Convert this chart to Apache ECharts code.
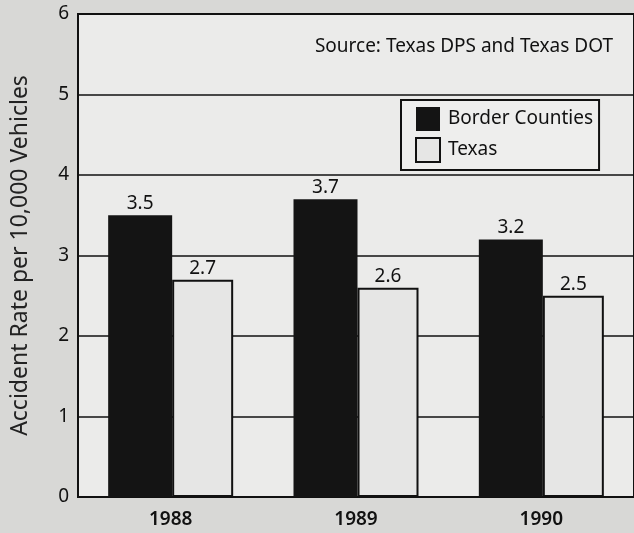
<!DOCTYPE html>
<html>
<head>
<meta charset="utf-8">
<script src="https://cdn.jsdelivr.net/npm/echarts@6/dist/echarts.min.js"></script>
<style>
html,body{margin:0;padding:0;background:#d8d8d6;}
#chart{width:634px;height:533px;}
</style>
</head>
<body>
<div id="chart"></div>
<script>
const categories = ['1988', '1989', '1990'];
const borderCounties = [3.5, 3.7, 3.2];
const texas = [2.7, 2.6, 2.5];
const yTicks = [0, 1, 2, 3, 4, 5, 6];

const FONT = '"Noto Sans", "Open Sans", sans-serif';
const chart = echarts.init(document.getElementById('chart'));
chart.setOption({
  backgroundColor: '#d8d8d6',
  animation: false,
  grid: {
    left: 78, top: 14, width: 561, bottom: 36,
    show: true, backgroundColor: '#ebebea', borderColor: '#111', borderWidth: 2
  },
  title: {
    text: 'Source: Texas DPS and Texas DOT',
    right: 16, top: 32,
    textStyle: { fontFamily: FONT, fontSize: 19, fontWeight: 'normal', color: '#111' }
  },
  legend: {
    orient: 'vertical', left: 401, top: 100,
    itemWidth: 24, itemHeight: 24, itemGap: 6,
    padding: [7, 6, 7, 14],
    borderColor: '#111', borderWidth: 2, backgroundColor: '#eeeeed',
    icon: 'rect',
    textStyle: { fontFamily: FONT, fontSize: 19, color: '#111', padding: [0, 0, 0, 3] },
    data: ['Border Counties', 'Texas']
  },
  xAxis: {
    type: 'category', data: categories,
    axisLine: { lineStyle: { color: '#111', width: 2 } },
    axisTick: { show: false },
    axisLabel: { fontFamily: FONT, fontSize: 19, fontWeight: 600, color: '#111', margin: 13 }
  },
  yAxis: {
    type: 'value', min: yTicks[0], max: yTicks[yTicks.length - 1], interval: 1,
    name: 'Accident Rate per 10,000 Vehicles', nameLocation: 'middle', nameGap: 46,
    nameTextStyle: { fontFamily: FONT, fontSize: 23, color: '#222' },
    axisLine: { show: true, lineStyle: { color: '#111', width: 2 } },
    axisTick: { show: false },
    axisLabel: { fontFamily: FONT, fontSize: 19, color: '#111', margin: 9 },
    splitLine: { lineStyle: { color: '#111', width: 1.5 } }
  },
  series: [
    {
      name: 'Border Counties', type: 'bar', data: borderCounties,
      barWidth: 64, barGap: '0%',
      itemStyle: { color: '#141414' },
      label: { show: true, position: 'top', distance: 2, fontFamily: FONT, fontSize: 19, color: '#111' }
    },
    {
      name: 'Texas', type: 'bar', data: texas,
      barWidth: 61,
      itemStyle: { color: '#e6e6e5', borderColor: '#111', borderWidth: 2 },
      label: { show: true, position: 'top', distance: 2, fontFamily: FONT, fontSize: 19, color: '#111' }
    }
  ]
});
</script>
</body>
</html>
